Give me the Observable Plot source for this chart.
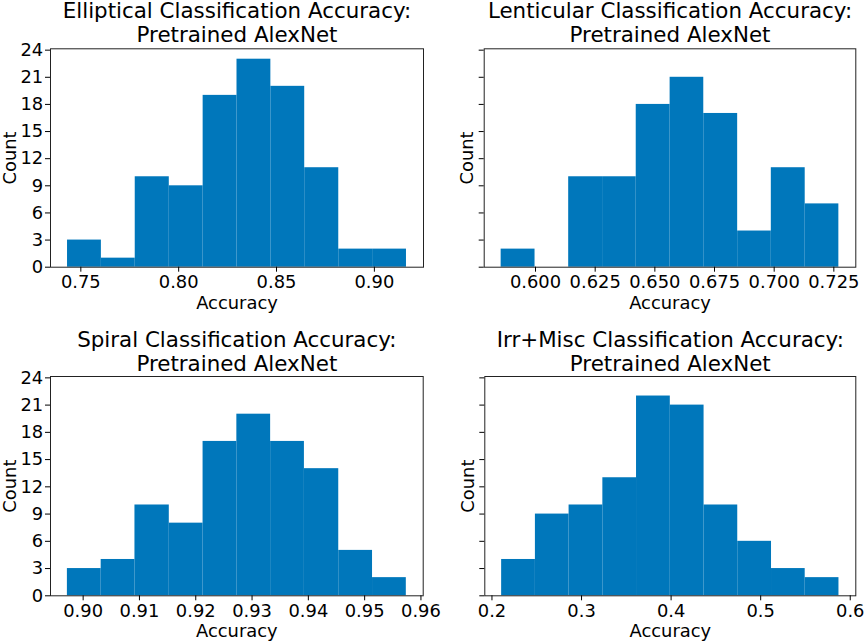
<!DOCTYPE html>
<html>
<head>
<meta charset="utf-8">
<script src="https://cdn.jsdelivr.net/npm/d3@7"></script>
<script src="https://cdn.jsdelivr.net/npm/@observablehq/plot@0.6"></script>
<style>
  html, body { margin: 0; padding: 0; background: #fff; }
  #chart { position: relative; width: 865px; height: 642px; font-family: "DejaVu Sans", sans-serif; }
  #chart svg { position: absolute; }
</style>
</head>
<body>
<div id="chart"></div>
<script>
// Bin edges and counts
const ellipticalEdges = [0.7432, 0.7605, 0.7778, 0.7952, 0.8125, 0.8298, 0.8471, 0.8644, 0.8818, 0.8991, 0.9164];
const ellipticalCounts = [3, 1, 10, 9, 19, 23, 20, 11, 2, 2];

const lenticularEdges = [0.5856, 0.5998, 0.6139, 0.6281, 0.6422, 0.6564, 0.6705, 0.6847, 0.6988, 0.7130, 0.7271];
const lenticularCounts = [2, 0, 10, 10, 18, 21, 17, 4, 11, 7];

const spiralEdges = [0.8972, 0.9032, 0.9092, 0.9153, 0.9213, 0.9273, 0.9333, 0.9393, 0.9454, 0.9514, 0.9574];
const spiralCounts = [3, 4, 10, 8, 17, 20, 17, 14, 5, 2];

const irrEdges = [0.2108, 0.2485, 0.2861, 0.3238, 0.3614, 0.3991, 0.4368, 0.4744, 0.5121, 0.5497, 0.5874];
const irrCounts = [4, 9, 10, 13, 22, 21, 10, 6, 3, 2];

// Tick labels
const ellipticalTicks = [0.75, 0.80, 0.85, 0.90];
const lenticularTicks = [0.600, 0.625, 0.650, 0.675, 0.700, 0.725];
const spiralTicks = [0.90, 0.91, 0.92, 0.93, 0.94, 0.95, 0.96];
const irrTicks = [0.2, 0.3, 0.4, 0.5, 0.6];
const countTicks = [0, 3, 6, 9, 12, 15, 18, 21, 24];

const titles = [
  "Elliptical Classification Accuracy:\nPretrained AlexNet",
  "Lenticular Classification Accuracy:\nPretrained AlexNet",
  "Spiral Classification Accuracy:\nPretrained AlexNet",
  "Irr+Misc Classification Accuracy:\nPretrained AlexNet"
];

const BAR = "#0077bb";
const TICK_FS = 17.9;
const TITLE_FS = 21.4;

function binsOf(edges, counts) {
  return counts.map((c, i) => ({x1: edges[i], x2: edges[i + 1], count: c}));
}

function panel({title, edges, counts, xDomain, xTicks, xFormat, yLabels, left, top, width, mLeft, mRight, mTop, mBottom, titleDy, countOffset}) {
  const svg = Plot.plot({
    width, height: 321,
    marginLeft: mLeft, marginRight: mRight, marginTop: mTop, marginBottom: mBottom,
    style: {fontFamily: "DejaVu Sans", fontSize: TICK_FS + "px", color: "#000", background: "transparent", overflow: "visible"},
    x: {domain: xDomain},
    y: {domain: [0, 24.15]},
    marks: [
      Plot.rectY(binsOf(edges, counts), {x1: "x1", x2: "x2", y: "count", fill: BAR, inset: 0}),
      Plot.frame({stroke: "#222", strokeWidth: 1}),
      Plot.axisX({ticks: xTicks, tickFormat: d3.format(xFormat), tickSize: 5, tickPadding: 3.5,
        fontSize: TICK_FS, label: "Accuracy", labelAnchor: "center", labelOffset: 41.3, labelArrow: "none"}),
      Plot.axisY({ticks: countTicks, tickFormat: yLabels ? d3.format("d") : () => "", tickSize: 5, tickPadding: 2.3,
        fontSize: TICK_FS, label: "Count", labelAnchor: "center", labelOffset: countOffset, labelArrow: "none"}),
      Plot.text([title], {frameAnchor: "top", dy: titleDy, lineAnchor: "bottom", lineHeight: 1.1,
        fontSize: TITLE_FS, fill: "#000", text: d => d})
    ]
  });
  svg.style.left = left + "px";
  svg.style.top = top + "px";
  return svg;
}

const chart = document.getElementById("chart");
chart.appendChild(panel({title: titles[0], edges: ellipticalEdges, counts: ellipticalCounts,
  xDomain: [0.7345, 0.9251], xTicks: ellipticalTicks, xFormat: ".2f", yLabels: true,
  left: 0, top: 0, width: 432, mLeft: 50, mRight: 9, mTop: 48.3, mBottom: 54.3, titleDy: -7, countOffset: 47}));
chart.appendChild(panel({title: titles[1], edges: lenticularEdges, counts: lenticularCounts,
  xDomain: [0.5785, 0.7342], xTicks: lenticularTicks, xFormat: ".3f", yLabels: false,
  left: 432, top: 0, width: 433, mLeft: 51.7, mRight: 9.7, mTop: 48.3, mBottom: 54.3, titleDy: -7, countOffset: 23.5}));
chart.appendChild(panel({title: titles[2], edges: spiralEdges, counts: spiralCounts,
  xDomain: [0.8942, 0.9604], xTicks: spiralTicks, xFormat: ".2f", yLabels: true,
  left: 0, top: 321, width: 432, mLeft: 50, mRight: 9.3, mTop: 55, mBottom: 46.7, titleDy: -6, countOffset: 47}));
chart.appendChild(panel({title: titles[3], edges: irrEdges, counts: irrCounts,
  xDomain: [0.1920, 0.6062], xTicks: irrTicks, xFormat: ".1f", yLabels: false,
  left: 432, top: 321, width: 433, mLeft: 52.3, mRight: 9.7, mTop: 55, mBottom: 46.7, titleDy: -6, countOffset: 23.5}));
</script>
</body>
</html>
